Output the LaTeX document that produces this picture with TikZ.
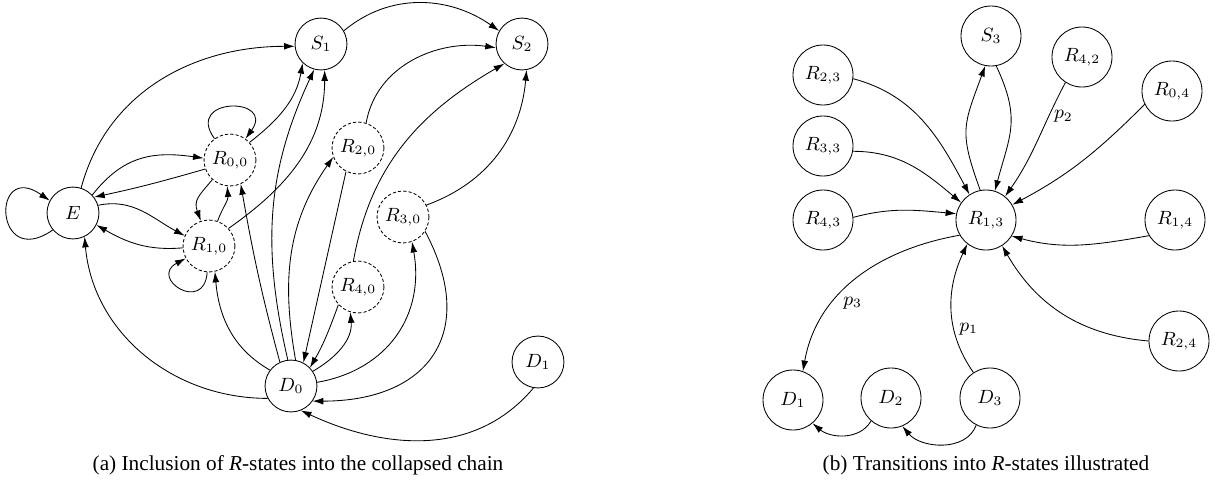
\documentclass[tikz,border=0pt]{standalone}
\usepackage{fontspec}
\setmainfont{Liberation Serif}
\usetikzlibrary{arrows.meta}
\begin{document}
\begin{tikzpicture}[x=0.47pt,y=0.47pt,
  st/.style={circle,draw,minimum size=24.4pt,inner sep=0pt,font=\small},
  rst/.style={st,dash pattern=on 1.5pt off 1pt},
  bst/.style={circle,draw,minimum size=28.2pt,inner sep=0pt,font=\small},
  arr/.style={-{Latex[length=5pt,width=3.2pt]}},
  lab/.style={font=\small,inner sep=1pt},
  captext/.style={font=\fontsize{10}{12}\selectfont,inner sep=0pt}]
\useasboundingbox (0,0) rectangle (1228,-486);
% ---------- (a) ----------
\node[st] (E) at (73,-213) {$E$};
\node[st] (S1) at (321,-44) {$S_1$};
\node[st] (S2) at (522,-44) {$S_2$};
\node[rst] (R00) at (230,-160) {$R_{0,0}$};
\node[rst] (R10) at (209,-246) {$R_{1,0}$};
\node[rst] (R20) at (358,-148) {$R_{2,0}$};
\node[rst] (R30) at (403,-217) {$R_{3,0}$};
\node[rst] (R40) at (358,-287) {$R_{4,0}$};
\node[st] (D0) at (291,-386) {$D_0$};
\node[st] (Dl1) at (538,-362) {$D_1$};

\draw[arr] (E.220) .. controls +(215:72) and +(145:72) .. (E.152);
\draw[arr] (E.72) to[out=75,in=180] (S1.185);
\draw[arr] (E.43) to[out=52,in=172,looseness=1.1] (R00.176);
\draw[arr] (R00.200) to[out=196,in=12] (E.37);
\draw[arr] (E.17) to[out=12,in=152] (R10.157);
\draw[arr] (R10.184) to[out=185,in=-30] (E.-27);
\draw[arr] (R10.266) .. controls +(266:42) and +(208:42) .. (R10.208);
\draw[arr] (R00.126) .. controls +(126:52) and +(54:52) .. (R00.54);
\draw[arr] (R00.228) to[out=230,in=110,looseness=1.3] (R10.108);
\draw[arr] (R10.71) to[out=70,in=-85] (R00.-96);
\draw[arr] (R00.42) to[out=38,in=260] (S1.226);
\draw[arr] (R10.42) to[out=35,in=270] (S1.-82);
\draw[arr] (D0.97) to[out=103,in=245] (S1.-105);
\draw[arr] (D0.115) to[out=105,in=-80] (R00.-66);
\draw[arr] (D0.80) to[out=100,in=235] (R20.200);
\draw[arr] (R20.243) -- (D0.62);
\draw[arr] (R40.222) to[out=250,in=60] (D0.44);
\draw[arr] (D0.34) to[out=30,in=-85] (R40.-107);
\draw[arr] (D0.143) to[out=150,in=-85] (R10.-77);
\draw[arr] (D0.208) to[out=180,in=-85] (E.-64);
\draw[arr] (Dl1.260) to[out=230,in=-25] (D0.-68);
\draw[arr] (R30.-33) to[out=-62,in=0,looseness=1.45] (D0.-35);
\draw[arr] (D0.8) to[out=10,in=-80,looseness=1.1] (R30.-70);
\draw[arr] (R40.100) to[out=80,in=210] (S2.228);
\draw[arr] (R30.27) to[out=20,in=265] (S2.-80);
\draw[arr] (R20.72) to[out=80,in=172] (S2.188);
\draw[arr] (S1.30) to[out=40,in=145] (S2.150);

\node[captext] (capa) at (298,-465) {(a) Inclusion of \textit{R}-states into the collapsed chain};

% ---------- (b) ----------
\node[bst] (S3) at (991,-36) {$S_3$};
\node[bst] (R23) at (823,-75) {$R_{2,3}$};
\node[bst] (R33) at (823,-146) {$R_{3,3}$};
\node[bst] (R43) at (823,-220) {$R_{4,3}$};
\node[bst] (R13) at (986,-220) {$R_{1,3}$};
\node[bst] (R42) at (1082,-57) {$R_{4,2}$};
\node[bst] (R04) at (1172,-91) {$R_{0,4}$};
\node[bst] (R14) at (1175,-220) {$R_{1,4}$};
\node[bst] (R24) at (1179,-341) {$R_{2,4}$};
\node[bst] (Dr1) at (793,-400) {$D_1$};
\node[bst] (Dr2) at (891,-398) {$D_2$};
\node[bst] (Dr3) at (990,-398) {$D_3$};

\draw[arr] (R23.-7) to[out=-15,in=118] (R13.123);
\draw[arr] (R33.-10) to[out=0,in=140] (R13.145);
\draw[arr] (R43.5) to[out=15,in=175] (R13.168);
\draw[arr] (S3.-80) to[out=-65,in=75,looseness=1.2] (R13.73);
\draw[arr] (R13.101) to[out=110,in=250,looseness=1.3] (S3.-101);
\draw[arr] (R42.-123) to[out=-118,in=55] node[lab,pos=0.28,xshift=7pt]{$p_2$} (R13.51);
\draw[arr] (R04.206) to[out=225,in=28] (R13.30);
\draw[arr] (R14.211) to[out=190,in=-15] (R13.-32);
\draw[arr] (R24.180) to[out=175,in=-60] (R13.-58);
\draw[arr] (Dr3.123) to[out=125,in=245] node[lab,pos=0.35,xshift=7pt]{$p_1$} (R13.232);
\draw[arr] (R13.210) to[out=190,in=80] node[lab,pos=0.6,xshift=5.4pt,yshift=-4.9pt]{$p_3$} (Dr1.71);
\draw[arr] (Dr2.229) to[out=240,in=-40] (Dr1.-50);
\draw[arr] (Dr3.243) to[out=250,in=-50] (Dr2.-68);

\node[captext] (capb) at (986,-465) {(b) Transitions into \textit{R}-states illustrated};
\end{tikzpicture}
\end{document}
